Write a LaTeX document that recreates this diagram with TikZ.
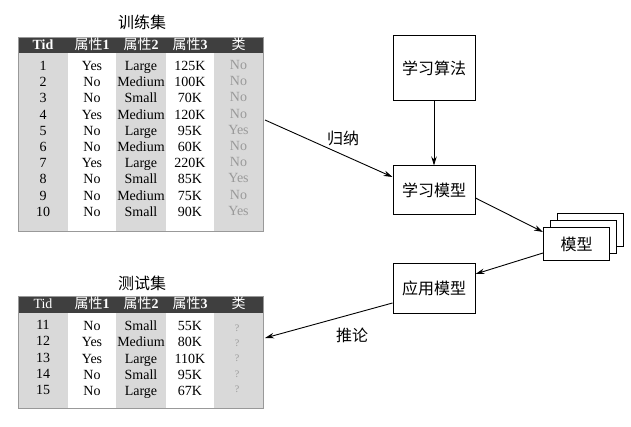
\documentclass[tikz,border=0pt]{standalone}
\usepackage{fontspec}
\setmainfont{Liberation Serif}
\newfontfamily\cjk{Noto Sans CJK SC}
\usetikzlibrary{arrows.meta,calc}
\definecolor{colg}{HTML}{D9D9D9}
\definecolor{hdrc}{HTML}{3F3F3F}
\definecolor{clsc}{HTML}{9A9A9A}
\begin{document}
\begin{tikzpicture}[x=1pt,y=-1pt,
  cell/.style={font=\fontsize{14}{16}\selectfont, inner sep=0pt, text height=9.5pt, text depth=2.5pt},
  clscell/.style={cell, text=clsc},
  hd/.style={font=\fontsize{14}{16}\selectfont, text=white, inner sep=0pt, text height=10pt, text depth=2.5pt},
  tbl/.style={draw=gray!80, line width=0.6pt, inner sep=0pt},
  ttl/.style={font=\cjk\fontsize{16}{19}\selectfont, inner sep=0pt},
  box/.style={draw, line width=1pt, fill=white, font=\cjk\fontsize{16}{19}\selectfont, inner sep=0pt},
  arr/.style={line width=0.9pt, -{Stealth[length=9pt,width=5.5pt]}},
  lbl/.style={font=\cjk\fontsize{16}{19}\selectfont, inner sep=0pt}]
\useasboundingbox (0,0) rectangle (631,427);
\fill[white] (0,0) rectangle (631,427);

% ---------- training table ----------
\node[ttl] (traintitle) at (142,22) {训练集};
\fill[hdrc] (18,37) rectangle (263,53);
\fill[colg] (18,53) rectangle (68,231);
\fill[colg] (116,53) rectangle (166,231);
\fill[colg] (214,53) rectangle (263,231);
\node[tbl, minimum width=245pt, minimum height=194pt] (train) at (140.5,134) {};
\node[hd] (trh0) at (43,45.5) {\textbf{Tid}};
\node[hd] (trh1) at (92,45.5) {{\cjk 属性}\textbf{1}};
\node[hd] (trh2) at (141,45.5) {{\cjk 属性}\textbf{2}};
\node[hd] (trh3) at (190,45.5) {{\cjk 属性}\textbf{3}};
\node[hd] (trh4) at (238.5,45.5) {{\cjk 类}};
\foreach \a/\b/\c/\d/\e [count=\i] in {1/Yes/Large/125K/No, 2/No/Medium/100K/No, 3/No/Small/70K/No, 4/Yes/Medium/120K/No, 5/No/Large/95K/Yes, 6/No/Medium/60K/No, 7/Yes/Large/220K/No, 8/No/Small/85K/Yes, 9/No/Medium/75K/No, 10/No/Small/90K/Yes}{
  \node[cell] (tr\i a) at (43,{67+16.2*(\i-1)}) {\a};
  \node[cell] (tr\i b) at (92,{67+16.2*(\i-1)}) {\b};
  \node[cell] (tr\i c) at (141,{67+16.2*(\i-1)}) {\c};
  \node[cell] (tr\i d) at (190,{67+16.2*(\i-1)}) {\d};
  \node[clscell] (tr\i e) at (238.5,{66+16.2*(\i-1)}) {\e};
}

% ---------- test table ----------
\node[ttl] (testtitle) at (142,283) {测试集};
\fill[hdrc] (18,296) rectangle (263,313);
\fill[colg] (18,313) rectangle (68,408);
\fill[colg] (116,313) rectangle (166,408);
\fill[colg] (214,313) rectangle (263,408);
\node[tbl, minimum width=245pt, minimum height=112pt] (test) at (140.5,352) {};
\node[hd] (teh0) at (43,304.5) {Tid};
\node[hd] (teh1) at (92,304.5) {{\cjk 属性}\textbf{1}};
\node[hd] (teh2) at (141,304.5) {{\cjk 属性}\textbf{2}};
\node[hd] (teh3) at (190,304.5) {{\cjk 属性}\textbf{3}};
\node[hd] (teh4) at (238.5,304.5) {{\cjk 类}};
\foreach \a/\b/\c/\d [count=\i] in {11/No/Small/55K, 12/Yes/Medium/80K, 13/Yes/Large/110K, 14/No/Small/95K, 15/No/Large/67K}{
  \node[cell] (te\i a) at (43,{326+16.3*(\i-1)}) {\a};
  \node[cell] (te\i b) at (92,{327+16.3*(\i-1)}) {\b};
  \node[cell] (te\i c) at (141,{327+16.3*(\i-1)}) {\c};
  \node[cell] (te\i d) at (190,{327+16.3*(\i-1)}) {\d};
  \node[clscell, font=\fontsize{10}{12}\selectfont] (te\i e) at (237,{328+15.2*(\i-1)}) {?};
}

% ---------- process boxes ----------
\node[box, minimum width=82pt, minimum height=65pt] (algo) at (434,68.5) {学习算法};
\node[box, minimum width=82pt, minimum height=49pt] (learn) at (434,190.5) {学习模型};
\node[box, minimum width=82pt, minimum height=49pt] (apply) at (434,288.5) {应用模型};
\node[box, minimum width=66pt, minimum height=33pt] (mback) at (590,230.5) {};
\node[box, minimum width=66pt, minimum height=33pt] (mmid) at (583.5,237.5) {};
\node[box, minimum width=66pt, minimum height=33pt] (model) at (576.5,244.5) {模型};

% ---------- connectors ----------
\coordinate (trainout) at (265,120);
\coordinate (testin) at (265,338);
\draw[arr] (algo.south) -- (learn.north);
\draw[arr] (trainout) -- ([yshift=13.5pt]learn.west);
\draw[arr] ([yshift=-7.5pt]learn.east) -- ([yshift=12.5pt]model.west);
\draw[arr] ([yshift=-8.5pt]model.west) -- ([yshift=14.5pt]apply.east);
\draw[arr] ([yshift=-14.5pt]apply.west) -- (testin);
\node[lbl] (induct) at (343,138) {归纳};
\node[lbl] (deduce) at (352,335) {推论};
\end{tikzpicture}
\end{document}
